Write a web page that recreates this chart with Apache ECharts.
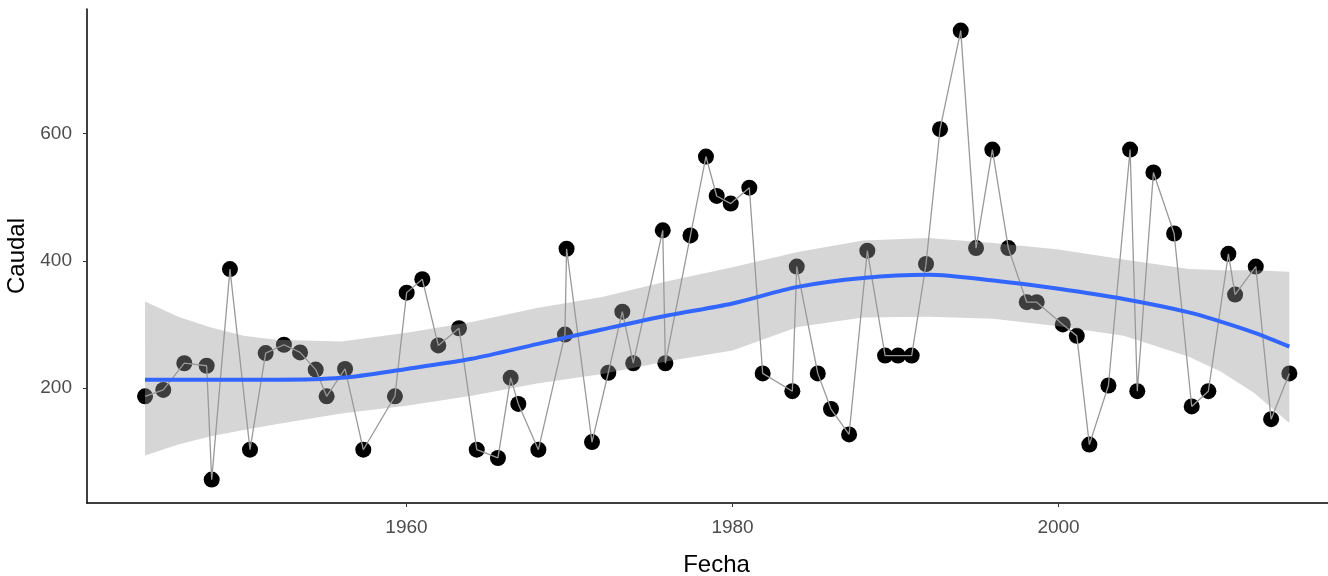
<!DOCTYPE html>
<html>
<head>
<meta charset="utf-8">
<script src="https://cdn.jsdelivr.net/npm/echarts@6/dist/echarts.min.js"></script>
<style>
html,body{margin:0;padding:0;background:#fff;}
#chart{width:1328px;height:576px;}
</style>
</head>
<body>
<div id="chart"></div>
<script>
// Observations (fractional year, Caudal)
const years = [1943.96, 1945.08, 1946.37, 1947.74, 1948.05, 1949.17, 1950.40, 1951.36, 1952.48, 1953.47, 1954.43, 1955.10, 1956.23, 1957.35, 1959.29, 1960.01, 1960.97, 1961.95, 1963.22, 1964.31, 1965.61, 1966.39, 1966.86, 1968.09, 1969.72, 1969.82, 1971.38, 1972.38, 1973.24, 1973.91, 1975.72, 1975.88, 1977.42, 1978.37, 1979.03, 1979.89, 1981.03, 1981.85, 1983.67, 1983.94, 1985.23, 1986.04, 1987.15, 1988.27, 1989.36, 1990.15, 1990.99, 1991.87, 1992.73, 1994.00, 1994.94, 1995.94, 1996.92, 1998.05, 1998.66, 2000.26, 2001.12, 2001.89, 2003.06, 2004.39, 2004.83, 2005.82, 2007.09, 2008.17, 2009.19, 2010.42, 2010.83, 2012.10, 2013.04, 2014.16];
const caudal = [187, 197, 239, 235, 56, 387, 103, 255, 268, 256, 229, 187, 230, 103, 187, 350, 371, 267, 294, 103, 90, 216, 175, 103, 284, 419, 115, 224, 320, 239, 448, 239, 440, 564, 502, 490, 515, 223, 195, 391, 223, 167, 127, 416, 251, 251, 251, 395, 607, 762, 420, 575, 420, 335, 335, 300, 282, 111, 204, 575, 195, 539, 443, 171, 195, 411, 347, 391, 151, 223];

// Smoothed trend with confidence band
const smoothYears = [1943.96, 1946, 1948, 1950, 1952, 1956, 1960, 1964, 1968, 1972, 1976, 1980, 1984, 1988, 1992, 1996, 2000, 2004, 2008, 2010, 2012, 2014.16];
const smoothFit   = [213, 213, 213, 213, 213, 216, 230, 246, 269, 292, 314, 333, 359, 373, 378, 369, 356, 340, 319, 304, 287, 265];
const smoothHigh  = [336, 312, 295, 282, 276, 273, 287, 304, 326, 343, 368, 390, 414, 432, 436, 428, 418, 402, 387, 385, 385, 383];
const smoothLow   = [94, 111, 124, 134, 143, 160, 172, 188, 207, 222, 242, 259, 296, 311, 312, 309, 297, 282, 249, 225, 192, 145];

const xTicks = [1960, 1980, 2000];
const yTicks = [200, 400, 600];

const pts = years.map((y, i) => [y, caudal[i]]);
const fitPts = smoothYears.map((y, i) => [y, smoothFit[i]]);

const chart = echarts.init(document.getElementById('chart'), null, {renderer: 'canvas'});
const labelFont = {color: '#4d4d4d', fontSize: 19, fontFamily: 'Liberation Sans, Arial, sans-serif'};
chart.setOption({
  animation: false,
  backgroundColor: '#fff',
  grid: {left: 87, top: 9, right: 0, bottom: 73, containLabel: false, outerBoundsMode: 'none'},
  xAxis: {
    type: 'value', min: 1940.4, max: 2016.53,
    name: 'Fecha', nameLocation: 'middle', nameGap: 50,
    nameTextStyle: {color: '#000', fontSize: 24, fontFamily: 'Liberation Sans, Arial, sans-serif', padding: [0, 0, 0, 18]},
    axisLine: {show: true, onZero: false, lineStyle: {color: '#000', width: 1.5}},
    axisTick: {show: true, length: 4, customValues: xTicks, lineStyle: {color: '#333'}},
    axisLabel: Object.assign({customValues: xTicks, margin: 15, formatter: v => String(Math.round(v))}, labelFont),
    splitLine: {show: false}
  },
  yAxis: {
    type: 'value', min: 19.2, max: 796,
    name: 'Caudal', nameLocation: 'middle', nameGap: 54, nameRotate: 90,
    nameTextStyle: {color: '#000', fontSize: 24, fontFamily: 'Liberation Sans, Arial, sans-serif'},
    axisLine: {show: true, onZero: false, lineStyle: {color: '#000', width: 1.5}},
    axisTick: {show: true, length: 4, customValues: yTicks, lineStyle: {color: '#333'}},
    axisLabel: Object.assign({customValues: yTicks, margin: 15}, labelFont),
    splitLine: {show: false}
  },
  series: [
    {
      type: 'scatter', name: 'points', data: pts, symbol: 'circle', symbolSize: 16,
      itemStyle: {color: '#000', opacity: 1}, z: 2, silent: true
    },
    {
      type: 'line', name: 'connect', data: pts, showSymbol: false, symbol: 'none',
      lineStyle: {color: '#999999', width: 1.3}, z: 3, silent: true
    },
    {
      type: 'custom', name: 'band', z: 4, silent: true,
      data: [0],
      renderItem: function (params, api) {
        const upper = smoothYears.map((y, i) => api.coord([y, smoothHigh[i]]));
        const lower = smoothYears.map((y, i) => api.coord([y, smoothLow[i]])).reverse();
        return {
          type: 'polygon',
          shape: {points: upper.concat(lower)},
          style: {fill: 'rgba(153,153,153,0.4)'}
        };
      }
    },
    {
      type: 'line', name: 'loess', data: fitPts, showSymbol: false, symbol: 'none', smooth: 0.3,
      lineStyle: {color: '#3366FF', width: 4}, z: 5, silent: true
    }
  ]
});
</script>
</body>
</html>
